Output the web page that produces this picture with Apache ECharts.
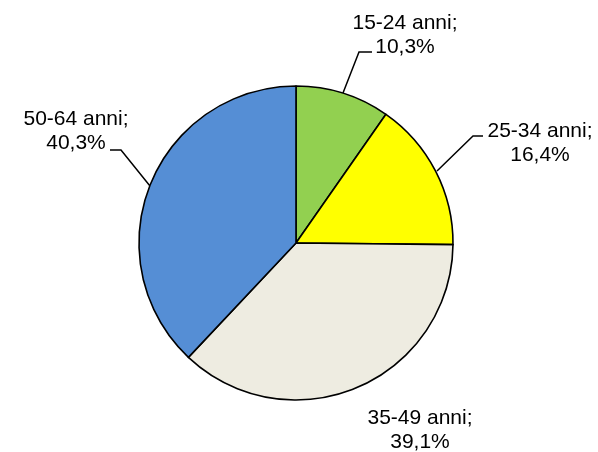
<!DOCTYPE html>
<html>
<head>
<meta charset="utf-8">
<script src="https://cdn.jsdelivr.net/npm/echarts@6/dist/echarts.min.js"></script>
<style>
  html, body { margin: 0; padding: 0; background: #fff; }
  #chart { width: 598px; height: 452px; }
</style>
</head>
<body>
<div id="chart"></div>
<script>
// dati
var categories = ['15-24 anni', '25-34 anni', '35-49 anni', '50-64 anni'];
var values = [10.3, 16.4, 39.1, 40.3];
var colors = ['#92D050', '#FFFF00', '#EEECE1', '#558ED5'];

// posizione etichette (centro del blocco di testo) e linee guida
var labelPos = [[405, 35], [540, 143], [420, 430], [76, 131]];
var leaderLines = [
  [[343, 93], [359, 52], [372, 52]],
  [[437, 171], [473, 136], [483, 136]],
  null,
  [[150, 186], [121, 150], [110, 150]]
];

var chart = echarts.init(document.getElementById('chart'));

var option = {
  animation: false,
  series: [
    {
      type: 'pie',
      center: [296, 243],
      radius: 157,
      startAngle: 90,
      clockwise: true,
      data: categories.map(function (c, i) {
        return {
          name: c,
          value: values[i],
          itemStyle: { color: colors[i] },
          labelLine: { show: !!leaderLines[i] }
        };
      }),
      itemStyle: { borderColor: '#000', borderWidth: 1.6 },
      emphasis: { disabled: true },
      label: {
        show: true,
        position: 'outside',
        alignTo: 'none',
        overflow: 'none',
        bleedMargin: 0,
        color: '#000',
        fontFamily: 'Liberation Sans, Arial, sans-serif',
        fontSize: 21,
        lineHeight: 24,
        align: 'center',
        formatter: function (p) {
          return p.name + ';\n' + p.value.toFixed(1).replace('.', ',') + '%';
        }
      },
      labelLine: {
        show: true,
        lineStyle: { color: '#000', width: 1.5 }
      },
      labelLayout: function (params) {
        var i = params.dataIndex;
        var res = {
          x: labelPos[i][0],
          y: labelPos[i][1],
          align: 'center',
          verticalAlign: 'middle'
        };
        if (leaderLines[i]) res.labelLinePoints = leaderLines[i];
        return res;
      }
    }
  ]
};

chart.setOption(option);
</script>
</body>
</html>
